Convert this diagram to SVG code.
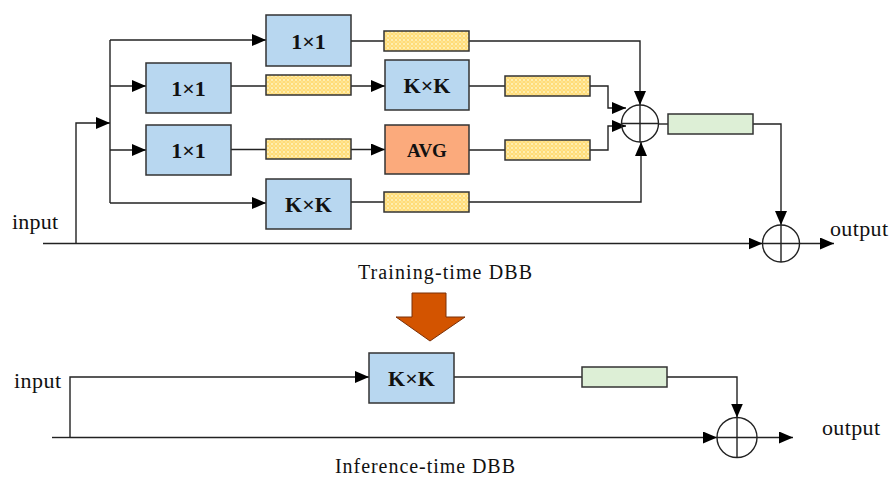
<svg xmlns="http://www.w3.org/2000/svg" width="891" height="477" viewBox="0 0 891 477">
  <defs>
    <style>
      .box { stroke: #333; stroke-width: 1.5; }
      .conv { fill: #B8D7F0; }
      .avg { fill: #FBAA7C; }
      .bn { fill: url(#dots); stroke: #333; stroke-width: 1.5; }
      .fuse { fill: #DDEFD6; stroke: #333; stroke-width: 1.5; }
      .lbl { font-family: "Liberation Serif", "Times New Roman", serif; font-weight: bold; font-size: 22px; fill: #111; text-anchor: middle; }
      .txt { font-family: "Liberation Serif", "Times New Roman", serif; font-size: 22px; fill: #111; }
      .cap { font-family: "Liberation Serif", "Times New Roman", serif; font-size: 20px; fill: #111; }
      .wire { fill: none; stroke: #222; stroke-width: 1.4; }
      .arr { fill: none; stroke: #222; stroke-width: 1.4; marker-end: url(#head); }
      .sum { fill: none; stroke: #222; stroke-width: 1.4; }
    </style>
    <pattern id="dots" width="4" height="4" patternUnits="userSpaceOnUse">
      <rect width="4" height="4" fill="#FFDC78"/>
      <path d="M0 0 L1 1 M3 3 L4 4 M3 1 L4 0 M0 4 L1 3" stroke="#FFF0B8" stroke-width="0.9"/>
      <circle cx="2" cy="2" r="0.7" fill="#FFF0B8"/>
    </pattern>
    <marker id="head" viewBox="0 0 14 12" refX="14" refY="6" markerWidth="14" markerHeight="12" markerUnits="userSpaceOnUse" orient="auto">
      <path d="M0 0 L14 6 L0 12 Z" fill="#000"/>
    </marker>
  </defs>

  <!-- connectors -->
  <g id="connectors">
    <!-- training-time block -->
    <path class="wire" d="M43 243.5 H76"/>
    <path class="arr" d="M76 243.5 V123 H110"/>
    <path class="wire" d="M110 40 V203"/>
    <path class="arr" d="M110 40 H266"/>
    <path class="arr" d="M110 86 H146"/>
    <path class="arr" d="M110 150 H146"/>
    <path class="arr" d="M110 203 H266"/>

    <path class="wire" d="M351 41 H384"/>
    <path class="arr" d="M469 41 H640 V105"/>

    <path class="wire" d="M231 86 H266"/>
    <path class="arr" d="M351 86 H385"/>
    <path class="wire" d="M469 86 H505"/>
    <path class="arr" d="M590 86 H608 V108 H626"/>

    <path class="wire" d="M231 149.5 H266"/>
    <path class="arr" d="M351 149.5 H385"/>
    <path class="wire" d="M469 150 H505"/>
    <path class="arr" d="M590 150 H608 V126 H626"/>

    <path class="wire" d="M351 202 H384"/>
    <path class="arr" d="M469 202 H641 V142"/>

    <path class="wire" d="M658.5 124 H668"/>
    <path class="arr" d="M753 124 H781 V225"/>
    <path class="arr" d="M76 243.5 H762.5"/>
    <path class="arr" d="M799.5 243.5 H834"/>

    <!-- inference-time block -->
    <path class="arr" d="M70 437.5 V377 H369"/>
    <path class="wire" d="M52 437.5 H70"/>
    <path class="wire" d="M454 377 H582"/>
    <path class="arr" d="M667 377 H737 V417.5"/>
    <path class="arr" d="M70 437.5 H717"/>
    <path class="arr" d="M757 437.5 H793"/>
  </g>

  <!-- training-time branches -->
  <g id="conv1x1-a"><rect class="box conv" x="266" y="15" width="85" height="51"/><text class="lbl" x="308.5" y="48.5">1×1</text></g>
  <g id="bn-a"><rect class="bn" x="384" y="31" width="85" height="20"/></g>

  <g id="conv1x1-b"><rect class="box conv" x="146" y="63" width="85" height="50"/><text class="lbl" x="188.5" y="96">1×1</text></g>
  <g id="bn-b1"><rect class="bn" x="266" y="75" width="85" height="20"/></g>
  <g id="convkxk-b"><rect class="box conv" x="385" y="60" width="84" height="50"/><text class="lbl" x="427" y="93">K×K</text></g>
  <g id="bn-b2"><rect class="bn" x="505" y="76" width="85" height="20"/></g>

  <g id="conv1x1-c"><rect class="box conv" x="146" y="125" width="85" height="50"/><text class="lbl" x="188.5" y="158">1×1</text></g>
  <g id="bn-c1"><rect class="bn" x="266" y="139" width="85" height="20"/></g>
  <g id="avg-c"><rect class="box avg" x="385" y="125" width="84" height="49"/><text class="lbl" x="427" y="156.5" style="font-size:19px">AVG</text></g>
  <g id="bn-c2"><rect class="bn" x="505" y="140" width="85" height="20"/></g>

  <g id="convkxk-d"><rect class="box conv" x="266" y="179" width="85" height="50"/><text class="lbl" x="308.5" y="212">K×K</text></g>
  <g id="bn-d"><rect class="bn" x="384" y="192" width="85" height="20"/></g>

  <g id="add-branches"><circle class="sum" cx="640" cy="123.5" r="18.5"/><path class="sum" d="M621.5 123.5 H658.5 M640 105 V142"/></g>
  <g id="bn-merged"><rect class="fuse" x="668" y="114" width="85" height="20"/></g>
  <g id="add-residual"><circle class="sum" cx="781" cy="243.5" r="18.5"/><path class="sum" d="M762.5 243.5 H799.5 M781 225 V262"/></g>

  <g id="labels-train">
    <text class="txt" x="12" y="229" textLength="46">input</text>
    <text class="txt" x="830" y="235.5" textLength="58">output</text>
    <text class="cap" x="358" y="278.5" textLength="174">Training-time  DBB</text>
  </g>

  <!-- conversion arrow -->
  <g id="convert">
    <polygon points="412,293 446,293 446,317 465,317 430,341 396,317 412,317" fill="#D35400" stroke="#7A3008" stroke-width="1"/>
  </g>

  <!-- inference-time block -->
  <g id="convkxk-inf"><rect class="box conv" x="369" y="353" width="85" height="50"/><text class="lbl" x="411.5" y="386">K×K</text></g>
  <g id="bn-inf"><rect class="fuse" x="582" y="367" width="85" height="20"/></g>
  <g id="add-inf"><circle class="sum" cx="737" cy="437.5" r="20"/><path class="sum" d="M717 437.5 H757 M737 417.5 V457.5"/></g>

  <g id="labels-inf">
    <text class="txt" x="14" y="388" textLength="47">input</text>
    <text class="txt" x="822" y="435" textLength="58">output</text>
    <text class="cap" x="335" y="472.5" textLength="180">Inference-time  DBB</text>
  </g>
</svg>
